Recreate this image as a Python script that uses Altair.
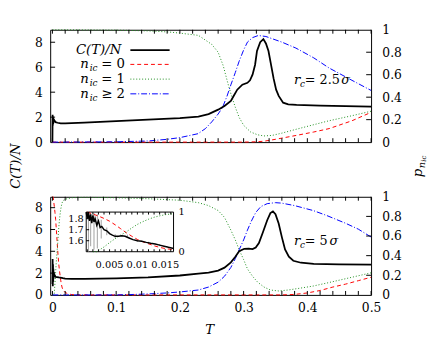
import altair as alt
import pandas as pd
import numpy as np

FONT = "DejaVu Serif"

# ---------------- data: top panel (r_c = 2.5 sigma) ----------------
top_c_T = [0, 0.0003, 0.0006, 0.0009, 0.0012, 0.0016, 0.002, 0.003, 0.005, 0.008,
           0.013, 0.02, 0.03, 0.05, 0.075, 0.1, 0.125, 0.15, 0.175, 0.2,
           0.229, 0.245, 0.26, 0.27, 0.28, 0.285, 0.29, 0.298, 0.306, 0.31,
           0.314, 0.318, 0.321, 0.326, 0.331, 0.335, 0.339, 0.343, 0.347, 0.351,
           0.355, 0.362, 0.37, 0.383, 0.42, 0.46, 0.5]
top_c_val = [0, 2.2, 1.3, 2.05, 1.45, 1.9, 1.6, 1.75, 1.6, 1.55,
             1.5, 1.5, 1.52, 1.57, 1.62, 1.68, 1.75, 1.81, 1.87, 1.93,
             2.05, 2.24, 2.6, 2.9, 3.3, 3.75, 4.2, 4.6, 4.75, 4.95,
             5.4, 6.2, 7.3, 8.0, 8.25, 7.9, 7.3, 6.2, 5.1, 4.2,
             3.7, 3.16, 3.03, 2.98, 2.92, 2.88, 2.84]

top_red_T = [0, 0.3, 0.32, 0.332, 0.35, 0.383, 0.41, 0.434, 0.47, 0.5]
top_red_p = [0, 0, 0.003, 0.008, 0.025, 0.06, 0.09, 0.12, 0.19, 0.265]

top_green_T = [0, 0.1, 0.15, 0.183, 0.2, 0.229, 0.25, 0.26, 0.268, 0.275,
               0.28, 0.287, 0.293, 0.3, 0.311, 0.322, 0.332, 0.345, 0.36, 0.383,
               0.41, 0.434, 0.47, 0.5]
top_green_p = [1.0, 0.997, 0.99, 0.98, 0.97, 0.95, 0.87, 0.80, 0.68, 0.53,
               0.43, 0.31, 0.22, 0.15, 0.09, 0.065, 0.055, 0.06, 0.08, 0.115,
               0.155, 0.19, 0.235, 0.275]

top_blue_T = [0, 0.1, 0.15, 0.18, 0.2, 0.2285, 0.24, 0.25, 0.26, 0.267,
              0.274, 0.28, 0.287, 0.293, 0.3, 0.306, 0.314, 0.323, 0.335, 0.36,
              0.382, 0.41, 0.434, 0.47, 0.5]
top_blue_p = [0, 0.003, 0.01, 0.025, 0.04, 0.075, 0.12, 0.18, 0.25, 0.31,
              0.41, 0.51, 0.62, 0.72, 0.82, 0.89, 0.93, 0.949, 0.94, 0.89,
              0.837, 0.75, 0.66, 0.55, 0.46]

# ---------------- data: bottom panel (r_c = 5 sigma) ----------------
bot_c_T = [0, 0.0003, 0.0006, 0.0009, 0.0012, 0.0015, 0.0018, 0.0022, 0.0026, 0.003,
           0.004, 0.005, 0.007, 0.01, 0.0124, 0.0165, 0.02, 0.03, 0.05, 0.1,
           0.15, 0.2, 0.229, 0.245, 0.26, 0.27, 0.28, 0.287, 0.293, 0.301,
           0.308, 0.314, 0.319, 0.324, 0.33, 0.337, 0.342, 0.346, 0.35, 0.355,
           0.36, 0.365, 0.371, 0.378, 0.39, 0.41, 0.45, 0.5]
bot_c_val = [1.0, 3.3, 0.8, 2.8, 1.2, 2.4, 1.5, 2.1, 1.7, 1.9,
             1.72, 1.66, 1.64, 1.6, 1.577, 1.53, 1.5, 1.48, 1.48, 1.52,
             1.6, 1.78, 1.95, 2.05, 2.23, 2.5, 2.98, 3.5, 4.0, 4.23,
             4.25, 4.2, 4.35, 4.76, 5.7, 6.85, 7.5, 7.65, 7.4, 6.55,
             5.3, 4.17, 3.5, 3.13, 2.95, 2.85, 2.8, 2.77]

bot_red_T = [0, 0.0005, 0.001, 0.002, 0.003, 0.004, 0.005, 0.006, 0.007, 0.008,
             0.009, 0.01, 0.011, 0.012, 0.013, 0.014, 0.015, 0.0165, 0.02, 0.025,
             0.03, 0.04, 0.36, 0.38, 0.4, 0.42, 0.44, 0.46, 0.48, 0.5]
bot_red_p = [1.0, 1.0, 1.0, 0.95, 0.90, 0.84, 0.77, 0.68, 0.58, 0.48,
             0.39, 0.31, 0.25, 0.20, 0.15, 0.11, 0.08, 0.05, 0.025, 0.01,
             0.004, 0.0, 0.0, 0.005, 0.02, 0.045, 0.08, 0.11, 0.145, 0.18]

bot_green_T = [0, 0.002, 0.0027, 0.004, 0.005, 0.006, 0.007, 0.008, 0.009, 0.01,
               0.011, 0.012, 0.013, 0.014, 0.015, 0.0165, 0.02, 0.03, 0.05, 0.1,
               0.15, 0.2, 0.229, 0.245, 0.26, 0.27, 0.28, 0.287, 0.293, 0.3,
               0.306, 0.314, 0.322, 0.332, 0.342, 0.355, 0.37, 0.39, 0.409, 0.43,
               0.46, 0.48, 0.5]
bot_green_p = [0, 0, 0.0, 0.12, 0.23, 0.33, 0.42, 0.5, 0.6, 0.69,
               0.76, 0.82, 0.87, 0.905, 0.935, 0.96, 0.975, 0.99, 0.995, 0.99,
               0.98, 0.965, 0.94, 0.91, 0.86, 0.79, 0.66, 0.56, 0.46, 0.36,
               0.265, 0.19, 0.13, 0.08, 0.05, 0.04, 0.05, 0.07, 0.09, 0.12,
               0.165, 0.195, 0.225]

bot_blue_T = [0, 0.1, 0.12, 0.15, 0.18, 0.2, 0.229, 0.245, 0.26, 0.27,
              0.28, 0.287, 0.293, 0.3, 0.306, 0.312, 0.319, 0.327, 0.337, 0.35,
              0.36, 0.38, 0.409, 0.43, 0.46, 0.48, 0.5]
bot_blue_p = [0, 0, 0.003, 0.01, 0.02, 0.03, 0.05, 0.08, 0.13, 0.19,
              0.28, 0.37, 0.46, 0.56, 0.66, 0.75, 0.84, 0.9, 0.93, 0.94,
              0.935, 0.91, 0.86, 0.81, 0.73, 0.67, 0.59]

# ---------------- data: inset (low T, r_c = 5 sigma) ----------------
ins_c_T = [0.0008, 0.001, 0.0012, 0.0014, 0.0016, 0.0018, 0.002, 0.0022, 0.0024, 0.0027,
           0.003, 0.0033, 0.0036, 0.004, 0.0045, 0.005, 0.0055, 0.006, 0.0066, 0.0072,
           0.0078, 0.0085, 0.0092, 0.01, 0.0108, 0.0116, 0.0124, 0.0132, 0.014, 0.0148,
           0.0156, 0.0165]
ins_c_val = [1.86, 1.80, 1.86, 1.78, 1.84, 1.76, 1.83, 1.77, 1.80, 1.74,
             1.78, 1.72, 1.73, 1.70, 1.69, 1.665, 1.65, 1.64, 1.64, 1.645,
             1.64, 1.625, 1.61, 1.60, 1.595, 1.585, 1.577, 1.57, 1.56, 1.55,
             1.54, 1.53]
ins_err_T = [0.0012, 0.0016, 0.0022, 0.0028, 0.0035, 0.0045, 0.006, 0.0082, 0.01, 0.012, 0.014]
ins_err_lo = [1.5, 1.55, 1.52, 1.53, 1.62, 1.65, 1.625, 1.625, 1.59, 1.57, 1.55]
ins_err_hi = [1.86, 1.86, 1.86, 1.84, 1.79, 1.72, 1.66, 1.655, 1.61, 1.59, 1.57]

# tick values / labels
x_labels = [0, 0.1, 0.2, 0.3, 0.4, 0.5]
x_minor = [round(0.02 * i, 2) for i in range(26)]
c_labels = [0, 2, 4, 6, 8]
p_labels = [0, 0.2, 0.4, 0.6, 0.8, 1]
ins_x_labels = [0.005, 0.01, 0.015]
ins_x_minor = [round(0.001 * i, 3) for i in range(1, 17)]
ins_c_labels = [1.6, 1.7, 1.8]
ins_p_labels = [0, 1]

SER = ["n0", "n1", "n2"]
COLS = ["#ff0000", "#1f8f1f", "#0000ff"]
DASH = [[4, 3], [1, 2], [6, 2, 1, 2]]

# ---------------- layout constants ----------------
W = 327
HT = 114.5
HB = 100
XDOM = [-0.0035, 0.5]
IX0, IX1, IY0, IY1 = 36.7, 125.7, 15.6, 56.0
one = pd.DataFrame({"k": [0]})


def long_p(Ts, ps, name):
    return pd.DataFrame({"T": Ts, "p": ps, "s": name})


def xs():
    return alt.Scale(domain=XDOM, nice=False, zero=False)


def txt(s, x, y, size=13.5, italic=False, align="left", angle=0):
    kw = dict(text=s, font=FONT, fontSize=size, align=align, baseline="middle",
              color="black", fontStyle="italic" if italic else "normal")
    if angle:
        kw["angle"] = angle
    return alt.Chart(one).mark_text(**kw).encode(x=alt.value(x), y=alt.value(y))


def seg(x1, x2, y, color, width, dash=None):
    kw = dict(color=color, strokeWidth=width)
    if dash:
        kw["strokeDash"] = dash
    return alt.Chart(one).mark_rule(**kw).encode(x=alt.value(x1), x2=alt.value(x2), y=alt.value(y))


def panel(cT, cV, pdf, H, show_x):
    pl = alt.Chart(pdf).mark_line(strokeWidth=1).encode(
        x=alt.X("T:Q", scale=xs(), axis=None),
        y=alt.Y("p:Q", scale=alt.Scale(domain=[0, 1], nice=False),
                axis=alt.Axis(orient="right", values=p_labels, format="~g", title=None,
                              ticks=False, tickSize=0, domain=False, grid=False,
                              labelPadding=11, labelFlush=False)),
        color=alt.Color("s:N", scale=alt.Scale(domain=SER, range=COLS), legend=None),
        strokeDash=alt.StrokeDash("s:N", scale=alt.Scale(domain=SER, range=DASH), legend=None),
    )
    if show_x:
        xax = alt.Axis(orient="bottom", values=x_labels, format="~g", title=None,
                       ticks=False, tickSize=0, domain=False, grid=False,
                       labelPadding=7, labelFlush=False)
    else:
        xax = None
    cl = alt.Chart(pd.DataFrame({"T": cT, "C": cV})).mark_line(
        color="black", strokeWidth=1.8).encode(
        x=alt.X("T:Q", scale=xs(), axis=xax),
        y=alt.Y("C:Q", scale=alt.Scale(domain=[0, 9], nice=False),
                axis=alt.Axis(orient="left", values=c_labels, format="d", title=None,
                              ticks=False, tickSize=0, domain=False, grid=False,
                              labelPadding=8, labelFlush=False)),
    )
    xt = pd.DataFrame({"T": x_minor})
    tb = alt.Chart(xt).mark_rule(color="black").encode(
        x=alt.X("T:Q", scale=xs(), axis=None), y=alt.value(H), y2=alt.value(H - 4))
    tt = alt.Chart(xt).mark_rule(color="black").encode(
        x=alt.X("T:Q", scale=xs(), axis=None), y=alt.value(0), y2=alt.value(4))
    tl = alt.Chart(pd.DataFrame({"C": c_labels[1:]})).mark_rule(color="black").encode(
        y=alt.Y("C:Q", scale=alt.Scale(domain=[0, 9], nice=False), axis=None),
        x=alt.value(0), x2=alt.value(5))
    tr = alt.Chart(pd.DataFrame({"p": p_labels[1:-1]})).mark_rule(color="black").encode(
        y=alt.Y("p:Q", scale=alt.Scale(domain=[0, 1], nice=False), axis=None),
        x=alt.value(W - 5), x2=alt.value(W))
    return [pl, cl, tb, tt, tl, tr]


top_p = pd.concat([long_p(top_red_T, top_red_p, "n0"),
                   long_p(top_green_T, top_green_p, "n1"),
                   long_p(top_blue_T, top_blue_p, "n2")])
bot_p = pd.concat([long_p(bot_red_T, bot_red_p, "n0"),
                   long_p(bot_green_T, bot_green_p, "n1"),
                   long_p(bot_blue_T, bot_blue_p, "n2")])

# ---------------- top panel ----------------
rows = [20.7, 35.3, 50.3, 65.3]
top_layers = panel(top_c_T, top_c_val, top_p, HT, False)
top_layers += [
    txt("C(T)/N", 72.4, rows[0], italic=True, align="right"),
    seg(81.7, 121.7, rows[0], "black", 1.8),
]
for r, (rhs, col, dash) in zip(rows[1:], [("= 0", COLS[0], DASH[0]),
                                         ("= 1", COLS[1], DASH[1]),
                                         ("\u2265 2", COLS[2], DASH[2])]):
    top_layers += [
        txt("n", 30.5, r, italic=True),
        txt("ic", 40.2, r + 4, size=9, italic=True),
        txt(rhs, 52, r),
        seg(81.7, 121.7, r, col, 1, dash),
    ]
top_layers += [
    txt("r", 248.4, 51, italic=True),
    txt("c", 254.5, 55, size=9, italic=True),
    txt("= 2.5", 259.5, 51, size=13),
    txt("\u03c3", 296.5, 51, size=13, italic=True),
    # shared axis titles
    txt("C(T)/N", -35, 139, italic=True, align="center", angle=270),
    txt("p", 374.7, 146, italic=True, align="center", angle=270),
    txt("n", 378.7, 138, size=10, italic=True, align="center", angle=270),
    txt("ic", 381, 131.5, size=7, italic=True, align="center", angle=270),
]
top = alt.layer(*top_layers).properties(width=W, height=HT).resolve_scale(
    x="independent", y="independent")

# ---------------- bottom panel ----------------
bot_layers = panel(bot_c_T, bot_c_val, bot_p, HB, True)
bot_layers += [
    txt("r", 248.4, 45, italic=True),
    txt("c", 254.5, 49, size=9, italic=True),
    txt("= 5", 259.5, 45, size=13),
    txt("\u03c3", 284.5, 45, size=13, italic=True),
    txt("T", 162.4, 136.3, italic=True, align="center"),
]

ixs = alt.Scale(domain=[0.0008, 0.0165], range=[IX0, IX1], nice=False, zero=False)
ics = alt.Scale(domain=[1.5, 1.86], range=[IY1, IY0], nice=False, zero=False)
ips = alt.Scale(domain=[0, 1], range=[IY1, IY0], nice=False, zero=False)

ins_p = bot_p[(bot_p["T"] >= 0.0008) & (bot_p["T"] <= 0.0165) & (bot_p["s"] != "n2")]

bot_layers += [
    alt.Chart(one).mark_rect(fill="white", stroke="black", strokeWidth=1).encode(
        x=alt.value(IX0), x2=alt.value(IX1), y=alt.value(IY0), y2=alt.value(IY1)),
    alt.Chart(pd.DataFrame({"T": ins_err_T, "lo": ins_err_lo, "hi": ins_err_hi})).mark_rule(
        color="#888888", strokeWidth=0.8).encode(
        x=alt.X("T:Q", scale=ixs, axis=None),
        y=alt.Y("lo:Q", scale=ics, axis=None), y2="hi:Q"),
    alt.Chart(ins_p).mark_line(strokeWidth=1).encode(
        x=alt.X("T:Q", scale=ixs, axis=None),
        y=alt.Y("p:Q", scale=ips, axis=None),
        color=alt.Color("s:N", scale=alt.Scale(domain=SER, range=COLS), legend=None),
        strokeDash=alt.StrokeDash("s:N", scale=alt.Scale(domain=SER, range=DASH), legend=None)),
    alt.Chart(pd.DataFrame({"T": ins_c_T, "C": ins_c_val})).mark_line(
        color="black", strokeWidth=1.5).encode(
        x=alt.X("T:Q", scale=ixs, axis=None),
        y=alt.Y("C:Q", scale=ics, axis=None)),
    alt.Chart(pd.DataFrame({"v": ins_x_minor})).mark_rule(color="black").encode(
        x=alt.X("v:Q", scale=ixs, axis=None), y=alt.value(IY1), y2=alt.value(IY1 - 2.5)),
    alt.Chart(pd.DataFrame({"v": ins_x_minor})).mark_rule(color="black").encode(
        x=alt.X("v:Q", scale=ixs, axis=None), y=alt.value(IY0), y2=alt.value(IY0 + 2.5)),
    alt.Chart(pd.DataFrame({"v": ins_c_labels})).mark_rule(color="black").encode(
        y=alt.Y("v:Q", scale=ics, axis=None), x=alt.value(IX0), x2=alt.value(IX0 + 3)),
    alt.Chart(pd.DataFrame({"v": ins_c_labels})).mark_text(
        font=FONT, fontSize=10, align="right", baseline="middle", color="black").encode(
        y=alt.Y("v:Q", scale=ics, axis=None), x=alt.value(IX0 - 2.5),
        text=alt.Text("v:Q", format=".1f")),
    alt.Chart(pd.DataFrame({"v": ins_p_labels})).mark_text(
        font=FONT, fontSize=10, align="left", baseline="middle", color="black").encode(
        y=alt.Y("v:Q", scale=ips, axis=None), x=alt.value(IX1 + 5),
        text=alt.Text("v:Q", format="d")),
    alt.Chart(pd.DataFrame({"v": ins_x_labels})).mark_text(
        font=FONT, fontSize=10, align="center", baseline="middle", color="black").encode(
        x=alt.X("v:Q", scale=ixs, axis=None), y=alt.value(IY1 + 14),
        text=alt.Text("v:Q", format="~g")),
]
bottom = alt.layer(*bot_layers).properties(width=W, height=HB).resolve_scale(
    x="independent", y="independent")

chart = alt.vconcat(top, bottom, spacing=55.2, bounds="flush").configure(
    padding={"left": 0, "top": 12, "right": 0, "bottom": 0}, font=FONT
).configure_axis(
    labelFont=FONT, labelFontSize=12.5, labelColor="black", grid=False
).configure_view(stroke="black", strokeWidth=1)

chart.save("out.html", embed_options={"renderer": "svg", "actions": False})
